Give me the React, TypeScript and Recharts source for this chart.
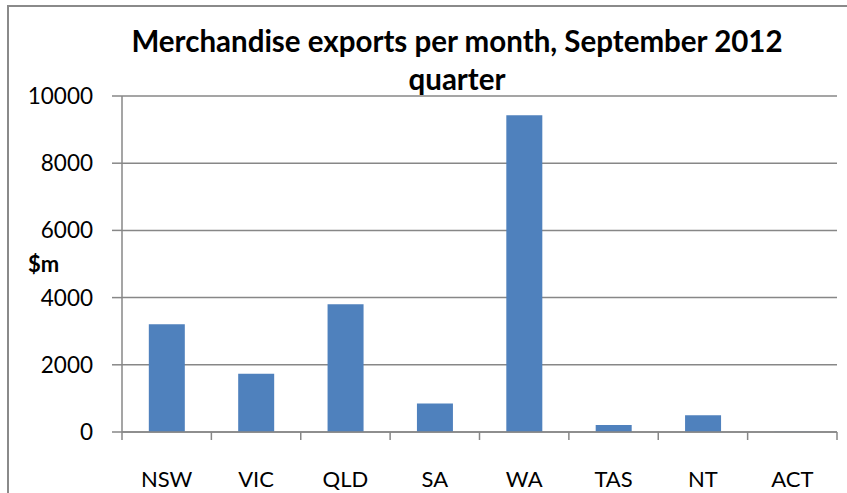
import { BarChart, Bar, XAxis, YAxis, CartesianGrid, Label } from "recharts"

const states = ["NSW", "VIC", "QLD", "SA", "WA", "TAS", "NT", "ACT"]
const exportsM = [3210, 1730, 3800, 850, 9430, 210, 500, 8]
const yTicks = [0, 2000, 4000, 6000, 8000, 10000]

const titleLines = ["Merchandise exports per month, September 2012", "quarter"]

const FONT = "Lato, 'Open Sans', sans-serif"
const GRID = "#878787"
const BAR = "#4F81BD"

const W = 847
const H = 493

// Excel-style category axis: tick marks sit on the band boundaries, not the centres
function CategoryTick(props: any) {
  const { x, y, payload, index, visibleTicksCount } = props
  const half = payload?.offset ?? 715 / states.length / 2
  const last = index === (visibleTicksCount ?? states.length) - 1
  return (
    <g>
      <line x1={x - half} y1={y} x2={x - half} y2={y + 8} stroke={GRID} strokeWidth={1.5} />
      {last && <line x1={x + half} y1={y} x2={x + half} y2={y + 8} stroke={GRID} strokeWidth={1.5} />}
      <text x={x} y={y + 55} textAnchor="middle" fontSize={22} fontFamily={FONT} fill="#000">
        {payload.value}
      </text>
    </g>
  )
}

export default function App() {
  const data = states.map((s, i) => ({ name: s, value: exportsM[i] }))

  return (
    <div style={{ position: "absolute", left: 0, top: 0, width: W, height: H, background: "#fff", overflow: "hidden" }}>
      {/* chart frame, runs off the right and bottom of the shot */}
      <div
        style={{
          position: "absolute",
          left: 7,
          top: 5,
          width: 900,
          height: 560,
          border: "2px solid #8a8a8a",
          boxSizing: "border-box",
        }}
      />
      <BarChart
        width={W}
        height={H}
        data={data}
        margin={{ top: 96, right: 10, bottom: 0, left: 0 }}
        barCategoryGap="30%"
        style={{ position: "absolute", left: 0, top: 0 }}
      >
        <CartesianGrid vertical={false} stroke={GRID} strokeWidth={1.5} />
        <XAxis
          dataKey="name"
          tickLine={false}
          tickSize={0}
          tickMargin={0}
          axisLine={{ stroke: GRID, strokeWidth: 1.5 }}
          height={61}
          interval={0}
          tick={<CategoryTick />}
        />
        <YAxis
          width={122}
          domain={[0, 10000]}
          ticks={yTicks}
          interval={0}
          tickSize={10}
          tickMargin={19}
          tickLine={{ stroke: GRID, strokeWidth: 1.5 }}
          axisLine={{ stroke: GRID, strokeWidth: 1.5 }}
          tick={{ fontSize: 22.5, fontFamily: FONT, fill: "#000" }}
        >
          <Label
            value="$m"
            position="insideLeft"
            offset={28}
            style={{ fontSize: 22, fontWeight: 700, fontFamily: FONT, fill: "#000" }}
          />
        </YAxis>
        <Bar dataKey="value" fill={BAR} isAnimationActive={false} />
      </BarChart>
      <svg width={W} height={110} style={{ position: "absolute", left: 0, top: 0, pointerEvents: "none" }}>
        {titleLines.map((t, i) => (
          <text
            key={t}
            x={457}
            y={52 + i * 38}
            textAnchor="middle"
            fontSize={29.5}
            fontWeight={700}
            fontFamily={FONT}
            fill="#000"
          >
            {t}
          </text>
        ))}
      </svg>
    </div>
  )
}
